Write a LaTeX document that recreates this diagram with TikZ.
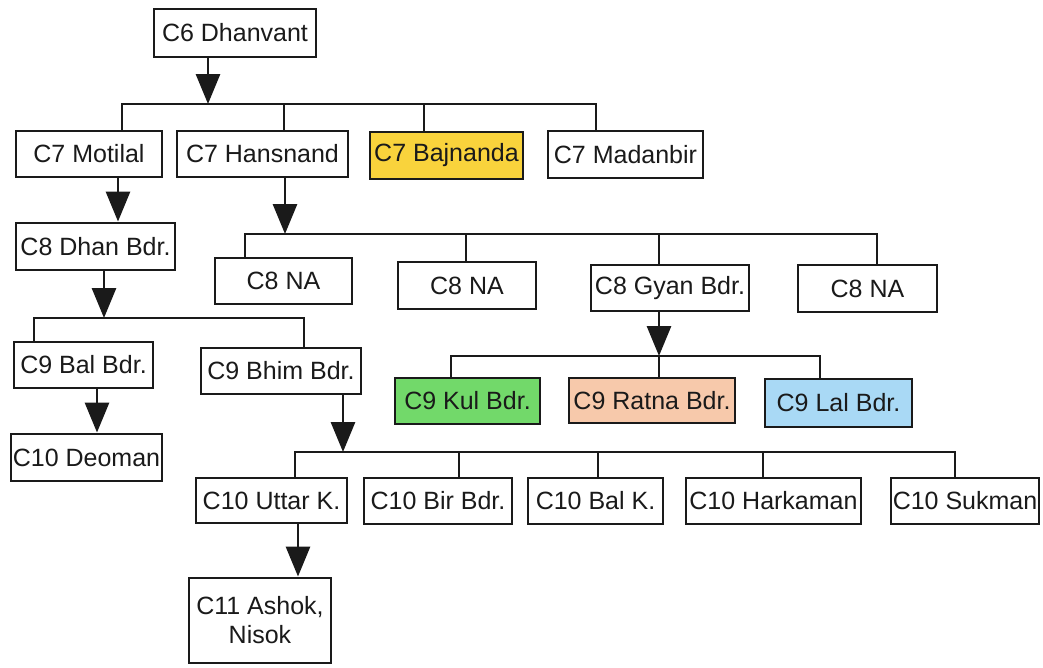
\documentclass[tikz,border=0pt]{standalone}
\usepackage{fontspec}
\setmainfont{Liberation Sans}
\usetikzlibrary{arrows.meta}
\definecolor{ink}{HTML}{1A1A1A}
\definecolor{cyellow}{HTML}{F9D33C}
\definecolor{cgreen}{HTML}{72D96A}
\definecolor{csalmon}{HTML}{F7C9AB}
\definecolor{cblue}{HTML}{A9D9F5}
\begin{document}
\begin{tikzpicture}[x=1pt,y=-1pt,
  box/.style={draw=ink, line width=2.9pt, inner sep=0pt, text=ink, fill=white,
    font=\fontsize{25}{29}\selectfont, align=center},
  wire/.style={draw=ink, line width=2.9pt, line cap=rect},
  arr/.style={draw=ink, line width=2.9pt, -{Triangle[width=24pt,length=30pt]}},
]
\useasboundingbox (0,0) rectangle (1043,667);
\fill[white] (0,0) rectangle (1043,667);

% ---------- nodes ----------
\node[box, minimum width=162pt, minimum height=48pt] (c6) at (235,33) {C6 Dhanvant};

\node[box, minimum width=146pt, minimum height=46pt] (mot) at (89,154) {C7 Motilal};
\node[box, minimum width=171pt, minimum height=46pt] (han) at (262.5,154) {C7 Hansnand};
\node[box, minimum width=153pt, minimum height=47pt, fill=cyellow] (baj) at (446.5,155.5) {C7 Bajnanda};
\node[box, minimum width=155pt, minimum height=47pt] (mad) at (625.5,154.5) {C7 Madanbir};

\node[box, minimum width=159pt, minimum height=47pt] (dhan) at (95.5,246.5) {C8 Dhan Bdr.};
\node[box, minimum width=137pt, minimum height=46pt] (naA) at (283.5,281) {C8 NA};
\node[box, minimum width=138pt, minimum height=47pt] (naB) at (467,285.5) {C8 NA};
\node[box, minimum width=158pt, minimum height=46pt] (gyan) at (670,288) {C8 Gyan Bdr.};
\node[box, minimum width=139pt, minimum height=47pt] (naD) at (867.5,288.5) {C8 NA};

\node[box, minimum width=139pt, minimum height=46pt] (bal) at (83.5,365) {C9 Bal Bdr.};
\node[box, minimum width=160pt, minimum height=46pt] (bhim) at (281,371) {C9 Bhim Bdr.};
\node[box, minimum width=145pt, minimum height=46pt, fill=cgreen] (kul) at (467.5,401) {C9 Kul Bdr.};
\node[box, minimum width=166pt, minimum height=45pt, fill=csalmon] (ratna) at (652,400.5) {C9 Ratna Bdr.};
\node[box, minimum width=147pt, minimum height=48pt, fill=cblue] (lal) at (838.5,403) {C9 Lal Bdr.};

\node[box, minimum width=151pt, minimum height=47pt] (deo) at (86.5,457.5) {C10 Deoman};
\node[box, minimum width=151pt, minimum height=45pt] (utt) at (271.5,500.5) {C10 Uttar K.};
\node[box, minimum width=148pt, minimum height=46pt] (bir) at (438,501) {C10 Bir Bdr.};
\node[box, minimum width=135pt, minimum height=46pt] (balk) at (595.5,501) {C10 Bal K.};
\node[box, minimum width=175pt, minimum height=46pt] (hark) at (773.5,501) {C10 Harkaman};
\node[box, minimum width=148pt, minimum height=46pt] (suk) at (965,501) {C10 Sukman};

\node[box, minimum width=142pt, minimum height=85pt] (ash) at (260,620.5) {C11 Ashok,\\Nisok};

% ---------- bus 1 (C6 -> C7) ----------
\coordinate (b1) at (208,104);
\coordinate (b1a) at (122,104);
\coordinate (b1b) at (284,104);
\coordinate (b1c) at (424,104);
\coordinate (b1d) at (596,104);
\draw[wire] (b1a) -- (b1d);
\draw[arr] (c6.south -| b1) -- (b1);
\draw[wire] (b1a) -- (b1a |- mot.north);
\draw[wire] (b1b) -- (b1b |- han.north);
\draw[wire] (b1c) -- (b1c |- baj.north);
\draw[wire] (b1d) -- (b1d |- mad.north);

% ---------- Motilal -> Dhan ----------
\coordinate (xm) at (118,0);
\draw[arr] (mot.south -| xm) -- (dhan.north -| xm);

% ---------- bus 2 (Dhan -> C9) ----------
\coordinate (b2) at (104,318);
\coordinate (b2a) at (34,318);
\coordinate (b2b) at (304,318);
\draw[wire] (b2a) -- (b2b);
\draw[arr] (dhan.south -| b2) -- (b2);
\draw[wire] (b2a) -- (b2a |- bal.north);
\draw[wire] (b2b) -- (b2b |- bhim.north);

% ---------- bus 3 (Hansnand -> C8) ----------
\coordinate (b3) at (285,234);
\coordinate (b3a) at (245,234);
\coordinate (b3b) at (466,234);
\coordinate (b3c) at (659,234);
\coordinate (b3d) at (877,234);
\draw[wire] (b3a) -- (b3d);
\draw[arr] (han.south -| b3) -- (b3);
\draw[wire] (b3a) -- (b3a |- naA.north);
\draw[wire] (b3b) -- (b3b |- naB.north);
\draw[wire] (b3c) -- (b3c |- gyan.north);
\draw[wire] (b3d) -- (b3d |- naD.north);

% ---------- bus 4 (Gyan -> C9) ----------
\coordinate (b4) at (659,356);
\coordinate (b4a) at (451,356);
\coordinate (b4b) at (659,356);
\coordinate (b4c) at (820,356);
\draw[wire] (b4a) -- (b4c);
\draw[arr] (gyan.south -| b4) -- (b4);
\draw[wire] (b4a) -- (b4a |- kul.north);
\draw[wire] (b4b) -- (b4b |- ratna.north);
\draw[wire] (b4c) -- (b4c |- lal.north);

% ---------- Bal -> Deoman ----------
\coordinate (xb) at (97,0);
\draw[arr] (bal.south -| xb) -- (deo.north -| xb);

% ---------- bus 5 (Bhim -> C10) ----------
\coordinate (b5) at (343,452);
\coordinate (b5a) at (295,452);
\coordinate (b5b) at (459,452);
\coordinate (b5c) at (598,452);
\coordinate (b5d) at (763,452);
\coordinate (b5e) at (955,452);
\draw[wire] (b5a) -- (b5e);
\draw[arr] (bhim.south -| b5) -- (b5);
\draw[wire] (b5a) -- (b5a |- utt.north);
\draw[wire] (b5b) -- (b5b |- bir.north);
\draw[wire] (b5c) -- (b5c |- balk.north);
\draw[wire] (b5d) -- (b5d |- hark.north);
\draw[wire] (b5e) -- (b5e |- suk.north);

% ---------- Uttar -> Ashok ----------
\coordinate (xu) at (298,0);
\draw[arr] (utt.south -| xu) -- (ash.north -| xu);
\end{tikzpicture}
\end{document}
